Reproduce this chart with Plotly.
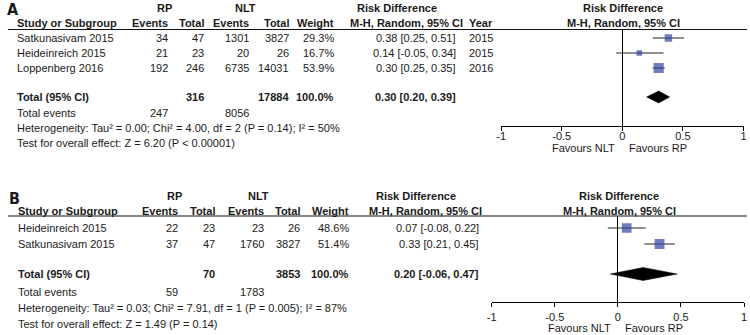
import math
import plotly.graph_objects as go

# ---------------- DATA ----------------
tick_vals = [-1, -0.5, 0, 0.5, 1]
tick_text = ["-1", "-0.5", "0", "0.5", "1"]

# Panel A
a_studies = ["Satkunasivam 2015", "Heideinreich 2015", "Loppenberg 2016"]
a_rp_events = [34, 21, 192]
a_rp_total = [47, 23, 246]
a_nlt_events = [1301, 20, 6735]
a_nlt_total = [3827, 26, 14031]
a_weight = [29.3, 16.7, 53.9]
a_rd = [0.38, 0.14, 0.30]
a_lo = [0.25, -0.05, 0.25]
a_hi = [0.51, 0.34, 0.35]
a_year = [2015, 2015, 2016]
a_sum_rp_total = 316
a_sum_nlt_total = 17884
a_sum_rp_events = 247
a_sum_nlt_events = 8056
a_pooled = [0.30, 0.20, 0.39]  # estimate, lower, upper
a_het = "Heterogeneity: Tau² = 0.00; Chi² = 4.00, df = 2 (P = 0.14); I² = 50%"
a_test = "Test for overall effect: Z = 6.20 (P < 0.00001)"

# Panel B
b_studies = ["Heideinreich 2015", "Satkunasivam 2015"]
b_rp_events = [22, 37]
b_rp_total = [23, 47]
b_nlt_events = [23, 1760]
b_nlt_total = [26, 3827]
b_weight = [48.6, 51.4]
b_rd = [0.07, 0.33]
b_lo = [-0.08, 0.21]
b_hi = [0.22, 0.45]
b_sum_rp_total = 70
b_sum_nlt_total = 3853
b_sum_rp_events = 59
b_sum_nlt_events = 1783
b_pooled = [0.20, -0.06, 0.47]
b_het = "Heterogeneity: Tau² = 0.03; Chi² = 7.91, df = 1 (P = 0.005); I² = 87%"
b_test = "Test for overall effect: Z = 1.49 (P = 0.14)"

# ---------------- LAYOUT / STYLE ----------------
W, H = 750, 335
FONT = "Liberation Sans, Arial, sans-serif"
NARROW = "Liberation Sans Narrow, Arial Narrow, DejaVu Sans Condensed, sans-serif"
TXT = "#1a1a1a"
BLUE = "#34449F"

A = dict(label=(8, 10), h1=8, h2=23, line=29.5, rows=[38, 53, 68], total=97,
         tev=113, het=128, test=143, axis=126, fav_y=148, standoff=-4,
         study_x=11, rp_c=161, nlt_c=243, rd_c=396, mh_c=406,
         rp_ev=166, rp_tot=202, nlt_ev=248, nlt_tot=288, wt=334, ci=457, year=468,
         plot=(501.5, 746.5), rhead=625, zero=624, dh=6)
B = dict(label=(10, 198), h1=196, h2=211, line=216, rows=[228, 244], total=274,
         tev=292, het=308, test=324, axis=302, fav_y=328, standoff=1,
         study_x=12, rp_c=171, nlt_c=256, rd_c=415, mh_c=425,
         rp_ev=176, rp_tot=213, nlt_ev=263, nlt_tot=299, wt=349, ci=480, year=None,
         plot=(492, 747), rhead=621, zero=619.5, dh=6.5)

anns = []
shapes = []


def txt(x, y, s, anchor="left", bold=False, size=11, family=FONT, color=TXT):
    anns.append(dict(x=x / W, y=1 - y / H, xref="paper", yref="paper",
                     text=f"<b>{s}</b>" if bold else s, showarrow=False,
                     xanchor=anchor, yanchor="middle", borderpad=0,
                     font=dict(family=family, size=size, color=color)))


def ci_str(e, l, u):
    return f"{e:.2f} [{l:.2f}, {u:.2f}]"


fig = go.Figure()


def panel(P, studies, rp_e, rp_t, nlt_e, nlt_t, wt, rd, lo, hi, year,
          s_rp_t, s_nlt_t, s_rp_e, s_nlt_e, pooled, het, test, letter, xa, ya):
    # letter
    txt(P["label"][0], P["label"][1], letter, "center", True, 16, NARROW)
    # headers
    txt(P["rp_c"], P["h1"], "RP", "center", True)
    txt(P["nlt_c"], P["h1"], "NLT", "center", True)
    txt(P["rd_c"], P["h1"], "Risk Difference", "center", True)
    txt(P["rhead"], P["h1"], "Risk Difference", "center", True)
    txt(P["study_x"], P["h2"], "Study or Subgroup", "left", True)
    txt(P["rp_ev"], P["h2"], "Events", "right", True)
    txt(P["rp_tot"], P["h2"], "Total", "right", True)
    txt(P["nlt_ev"], P["h2"], "Events", "right", True)
    txt(P["nlt_tot"], P["h2"], "Total", "right", True)
    txt(P["wt"], P["h2"], "Weight", "right", True)
    txt(P["mh_c"], P["h2"], "M-H, Random, 95% CI", "center", True)
    if P["year"] is not None:
        txt(P["year"], P["h2"], "Year", "left", True)
    txt(P["rhead"], P["h2"], "M-H, Random, 95% CI", "center", True)
    shapes.append(dict(type="line", xref="paper", yref="paper",
                       x0=3 / W, x1=1, y0=1 - P["line"] / H, y1=1 - P["line"] / H,
                       line=dict(color="#111", width=1.2)))
    # study rows
    for i, s in enumerate(studies):
        y = P["rows"][i]
        txt(P["study_x"], y, s)
        txt(P["rp_ev"], y, str(rp_e[i]), "right")
        txt(P["rp_tot"], y, str(rp_t[i]), "right")
        txt(P["nlt_ev"], y, str(nlt_e[i]), "right")
        txt(P["nlt_tot"], y, str(nlt_t[i]), "right")
        txt(P["wt"], y, f"{wt[i]:.1f}%", "right")
        txt(P["ci"], y, ci_str(rd[i], lo[i], hi[i]), "right")
        if year is not None:
            txt(P["year"], y, str(year[i]), "left")
    # totals
    y = P["total"]
    txt(P["study_x"], y, "Total (95% CI)", "left", True)
    txt(P["rp_tot"], y, str(s_rp_t), "right", True)
    txt(P["nlt_tot"], y, str(s_nlt_t), "right", True)
    txt(P["wt"], y, "100.0%", "right", True)
    txt(P["ci"], y, ci_str(*pooled), "right", True)
    txt(P["study_x"], P["tev"], "Total events")
    txt(P["rp_ev"], P["tev"], str(s_rp_e), "right")
    txt(P["nlt_ev"], P["tev"], str(s_nlt_e), "right")
    txt(P["study_x"], P["het"], het)
    txt(P["study_x"], P["test"], test)
    # favours
    txt(P["zero"] - 6, P["fav_y"], "Favours NLT", "right")
    txt(P["zero"] + 6, P["fav_y"], "Favours RP", "left")

    # squares with CI bars
    fig.add_trace(go.Scatter(
        x=rd, y=P["rows"][:len(rd)], mode="markers", xaxis=xa, yaxis=ya,
        marker=dict(symbol="square", color=BLUE,
                    size=[1.38 * math.sqrt(w) for w in wt], line=dict(width=0)),
        error_x=dict(type="data", symmetric=False,
                     array=[h - e for h, e in zip(hi, rd)],
                     arrayminus=[e - l for e, l in zip(rd, lo)],
                     thickness=1, width=0, color="#222"),
        showlegend=False, hoverinfo="skip"))
    # pooled diamond
    e, l, u = pooled
    r = P["total"]
    d = P["dh"]
    fig.add_trace(go.Scatter(
        x=[l, e, u, e, l], y=[r, r - d, r, r + d, r], mode="lines", fill="toself",
        fillcolor="black", line=dict(color="black", width=0.5),
        xaxis=xa, yaxis=ya, showlegend=False, hoverinfo="skip"))


panel(A, a_studies, a_rp_events, a_rp_total, a_nlt_events, a_nlt_total, a_weight,
      a_rd, a_lo, a_hi, a_year, a_sum_rp_total, a_sum_nlt_total, a_sum_rp_events,
      a_sum_nlt_events, a_pooled, a_het, a_test, "A", "x", "y")
panel(B, b_studies, b_rp_events, b_rp_total, b_nlt_events, b_nlt_total, b_weight,
      b_rd, b_lo, b_hi, None, b_sum_rp_total, b_sum_nlt_total, b_sum_rp_events,
      b_sum_nlt_events, b_pooled, b_het, b_test, "B", "x2", "y2")


def xaxis_cfg(P, anchor):
    return dict(domain=[P["plot"][0] / W, P["plot"][1] / W], range=[-1, 1],
                anchor=anchor, showline=True, linecolor="black", linewidth=1,
                ticks="outside", ticklen=4, tickcolor="black", tickwidth=1,
                ticklabelstandoff=P["standoff"],
                tickvals=tick_vals, ticktext=tick_text, showgrid=False,
                zeroline=True, zerolinecolor="black", zerolinewidth=1,
                tickfont=dict(family=FONT, size=11, color=TXT), fixedrange=True)


def yaxis_cfg(P, anchor):
    return dict(domain=[1 - P["axis"] / H, 1 - P["line"] / H],
                range=[P["axis"], P["line"]], anchor=anchor, visible=False,
                showgrid=False, zeroline=False, fixedrange=True)


fig.update_layout(
    width=W, height=H, autosize=False,
    margin=dict(l=0, r=0, t=0, b=0, pad=0),
    paper_bgcolor="white", plot_bgcolor="rgba(0,0,0,0)",
    xaxis=xaxis_cfg(A, "y"), yaxis=yaxis_cfg(A, "x"),
    xaxis2=xaxis_cfg(B, "y2"), yaxis2=yaxis_cfg(B, "x2"),
    annotations=anns, shapes=shapes, showlegend=False,
)

fig.write_html("out.html", config={"displayModeBar": False},
               post_script="document.body.style.margin='0';document.body.style.overflow='hidden';")
